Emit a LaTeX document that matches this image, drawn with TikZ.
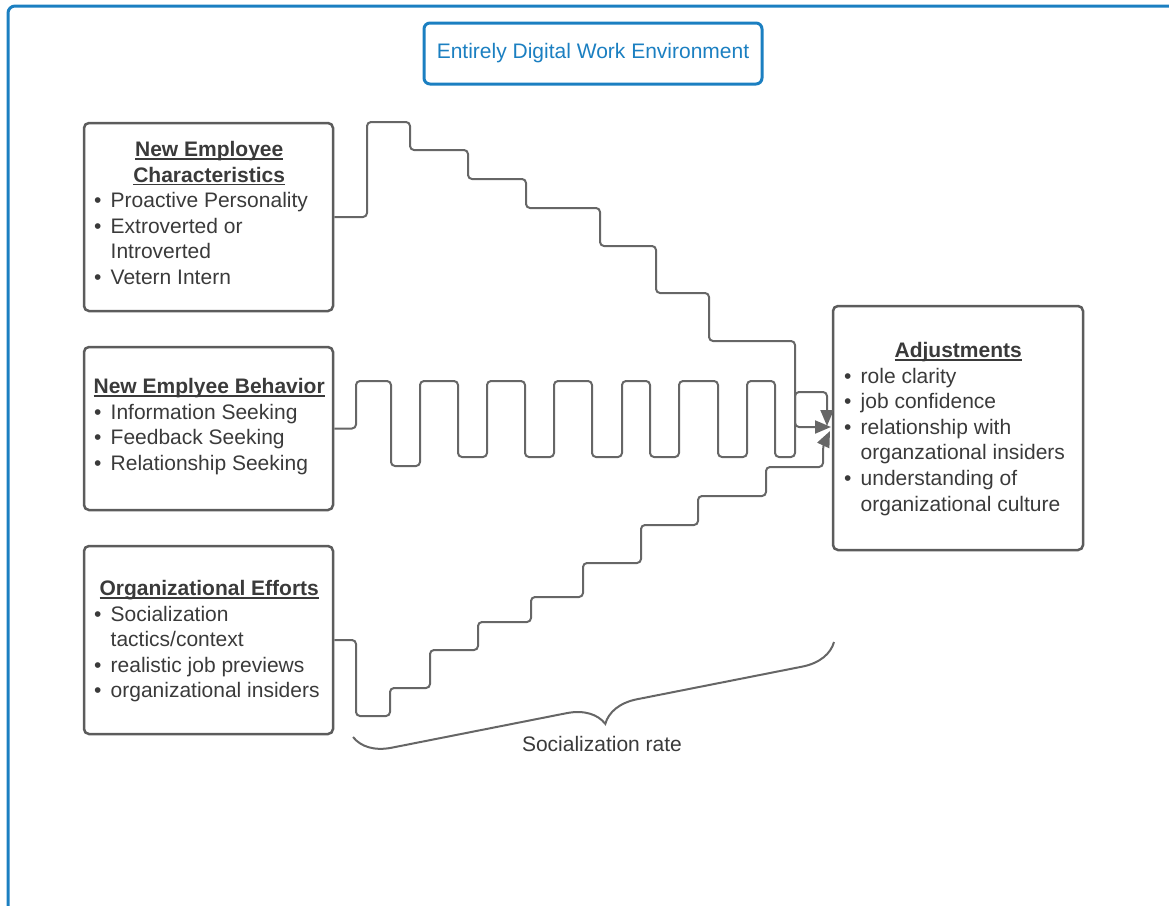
\documentclass[tikz,border=0pt]{standalone}
\usepackage{fontspec}
\setmainfont{Liberation Sans}
\usetikzlibrary{decorations.pathreplacing,arrows.meta}
\definecolor{frameblue}{HTML}{1B7FC1}
\definecolor{boxgray}{HTML}{5C5C5C}
\definecolor{linegray}{HTML}{666666}
\definecolor{txtgray}{HTML}{3A3A3A}
\newcommand{\bul}{\makebox[16.5pt][l]{•}}
\newcommand{\ind}{\hspace*{16.5pt}}
\newcommand{\hd}[1]{\makebox[\linewidth][c]{\textbf{#1}\llap{\sbox0{\textbf{#1}}\rule[-3pt]{\wd0}{1.4pt}}}}
\begin{document}
\begin{tikzpicture}[x=1pt,y=-1pt,
  box/.style={draw=boxgray, line width=2.5pt, rounded corners=5pt, inner sep=0pt},
  wire/.style={draw=linegray, line width=2pt, rounded corners=4pt, -{Triangle[length=16pt,width=13pt]}},
  txt/.style={anchor=base west, inner sep=0pt, text=txtgray, font=\fontsize{21}{25.6}\selectfont},
]
\useasboundingbox (0,0) rectangle (1169,905);
% outer frame
\draw[frameblue, line width=3pt, rounded corners=7pt] (8,920) -- (8,6) -- (1180,6);
% title
\node[draw=frameblue, line width=3pt, rounded corners=6pt, minimum width=338pt, minimum height=61pt, inner sep=0pt,
  text=frameblue, font=\fontsize{21}{25}\selectfont] (title) at (593,53.5) {Entirely Digital Work Environment};
% boxes
\node[box, minimum width=249pt, minimum height=188pt] (b1) at (208.5,217) {};
\node[box, minimum width=249pt, minimum height=163pt] (b2) at (208.5,428.5) {};
\node[box, minimum width=249pt, minimum height=188pt] (b3) at (208.5,640) {};
\node[box, minimum width=250pt, minimum height=244pt] (adj) at (958,428) {};
% texts
\node[txt] (t1) at (94,156.5) {\parbox[t]{230pt}{\hd{New Employee}\\\hd{Characteristics}\\
  \bul Proactive Personality\\\bul Extroverted or\\\ind Introverted\\\bul Vetern Intern}};
\node[txt] (t2) at (94,393.5) {\parbox[t]{230pt}{\hd{New Emplyee Behavior}\\
  \bul Information Seeking\\\bul Feedback Seeking\\\bul Relationship Seeking}};
\node[txt] (t3) at (94,595.5) {\parbox[t]{230pt}{\hd{Organizational Efforts}\\
  \bul Socialization\\\ind tactics/context\\\bul realistic job previews\\\bul organizational insiders}};
\node[txt] (t4) at (844,357.5) {\parbox[t]{228pt}{\hd{Adjustments}\\
  \bul role clarity\\\bul job confidence\\\bul relationship with\\\ind organzational insiders\\\bul understanding of\\\ind organizational culture}};
% arrow ends
\coordinate (e1) at (831,427);
\coordinate (e2) at (827,426);
\coordinate (e3) at (830,431);
% connectors
\draw[wire] (b1.east) -- (367,217) -- (367,122) -- (410,122) -- (410,150) -- (468,150) -- (468,179) -- (526,179)
  -- (526,208) -- (600,208) -- (600,246) -- (656,246) -- (656,293) -- (709,293) -- (709,341) -- (795,341)
  -- (795,427) -- (e1);
\draw[wire] (b2.east) -- (356,428.5) -- (356,381) -- (391,381) -- (391,466) -- (420,466) -- (420,381) -- (458,381)
  -- (458,457) -- (487,457) -- (487,381) -- (525,381) -- (525,457) -- (554,457) -- (554,381) -- (592,381)
  -- (592,457) -- (622,457) -- (622,381) -- (650,381) -- (650,457) -- (679,457) -- (679,381) -- (718,381)
  -- (718,457) -- (747,457) -- (747,381) -- (775,381) -- (775,457) -- (795,457) -- (795,392) -- (827,392) -- (e2);
\draw[wire] (b3.east) -- (356,640) -- (356,716) -- (390,716) -- (390,688) -- (430,688) -- (430,650) -- (478,650)
  -- (478,622) -- (531,622) -- (531,597) -- (583,597) -- (583,563) -- (641,563) -- (641,525) -- (698,525)
  -- (698,496) -- (766,496) -- (766,467) -- (823,467) -- (823,446) -- (e3);
% brace
\coordinate (bA) at (834,642);
\coordinate (bB) at (353,737);
\draw[linegray, line width=2pt, decorate, decoration={brace, amplitude=36pt, aspect=0.49}] (bA) -- (bB);
\node[inner sep=0pt, text=txtgray, font=\fontsize{21}{25}\selectfont] (rate) at (602,744) {Socialization rate};
\end{tikzpicture}
\end{document}
